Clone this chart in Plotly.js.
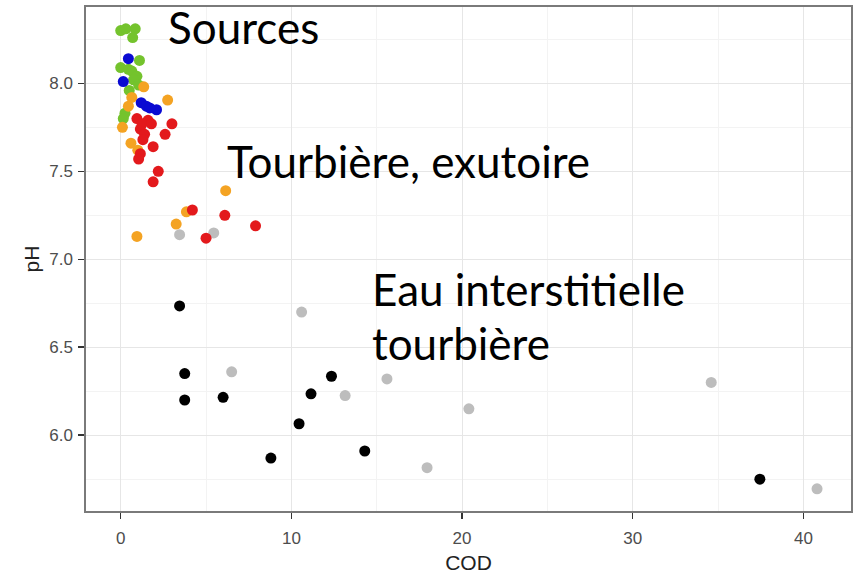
<!DOCTYPE html>
<html>
<head>
<meta charset="utf-8">
<script src="https://cdn.plot.ly/plotly-3.0.1.min.js"></script>
<style>html,body{margin:0;padding:0;background:#fff;}#chart{width:854px;height:574px;}</style>
</head>
<body>
<div id="chart"></div>
<script>
// Sources (green)
const greenCOD = [0.0, 0.3, 0.85, 0.7, 1.1, 0.0, 0.45, 0.65, 0.95, 0.75, 1.05, 0.25, 0.15, 0.5];
const greenPH  = [8.30, 8.31, 8.31, 8.26, 8.13, 8.09, 8.08, 8.07, 8.04, 8.02, 7.99, 7.83, 7.80, 7.96];
// blue
const blueCOD = [0.45, 0.15, 1.2, 1.5, 2.1, 1.7];
const bluePH  = [8.14, 8.01, 7.89, 7.87, 7.85, 7.86];
// orange
const orangeCOD = [1.35, 2.75, 0.65, 0.45, 0.1, 0.6, 1.0, 0.95, 3.85, 6.15, 3.25];
const orangePH  = [7.98, 7.905, 7.92, 7.87, 7.75, 7.66, 7.62, 7.13, 7.27, 7.39, 7.20];
// red
const redCOD = [0.95, 1.6, 1.15, 1.4, 1.25, 1.8, 3.0, 2.6, 1.9, 1.15, 1.05, 2.2, 1.9, 4.2, 6.1, 5.0, 7.9, 1.3];
const redPH  = [7.80, 7.79, 7.74, 7.71, 7.77, 7.77, 7.77, 7.71, 7.64, 7.60, 7.57, 7.50, 7.44, 7.28, 7.25, 7.12, 7.19, 7.68];
// grey
const greyCOD = [3.45, 5.45, 10.6, 6.5, 13.15, 15.6, 20.4, 17.95, 34.6, 40.8];
const greyPH  = [7.14, 7.15, 6.70, 6.36, 6.225, 6.32, 6.15, 5.815, 6.30, 5.695];
// black
const blackCOD = [3.45, 3.75, 3.75, 6.0, 12.35, 11.15, 10.45, 8.8, 14.3, 37.45];
const blackPH  = [6.735, 6.35, 6.20, 6.215, 6.335, 6.235, 6.065, 5.87, 5.91, 5.75];

const xTicks = [0, 10, 20, 30, 40];
const yTicks = [6.0, 6.5, 7.0, 7.5, 8.0];

function series(x, y, color) {
  return {x: x, y: y, type: 'scatter', mode: 'markers', hoverinfo: 'skip',
          marker: {color: color, size: 11, line: {width: 0}}, showlegend: false};
}

const data = [
  series(greyCOD, greyPH, '#bdbdbd'),
  series(greenCOD, greenPH, '#74c32d'),
  series(orangeCOD, orangePH, '#f4a323'),
  series(blueCOD, bluePH, '#0a0ad2'),
  series(redCOD, redPH, '#e3191c'),
  series(blackCOD, blackPH, '#000000')
];

const annFont = {family: 'Lato, sans-serif', size: 44, color: '#000'};
function ann(text, x, y) {
  return {text: text, x: x, y: y, xref: 'x', yref: 'y', xanchor: 'left', yanchor: 'bottom',
          showarrow: false, font: annFont, align: 'left'};
}

const layout = {
  width: 854, height: 574,
  margin: {l: 86, r: 3, t: 7, b: 63},
  paper_bgcolor: '#fff', plot_bgcolor: '#fff',
  font: {family: 'Liberation Sans, Arial, sans-serif'},
  xaxis: {
    range: [-2.034, 42.79], tickvals: xTicks, ticktext: xTicks.map(String),
    showgrid: true, gridcolor: '#e6e6e6', gridwidth: 1,
    minor: {tickvals: [5, 15, 25, 35], showgrid: true, gridcolor: '#f3f3f3', gridwidth: 1, ticks: ''},
    zeroline: false, showline: true, mirror: true, linecolor: '#7a7a7a', linewidth: 1.6,
    ticks: 'outside', ticklen: 6, tickwidth: 1.5, tickcolor: '#333',
    ticklabelstandoff: 5,
    tickfont: {size: 17, color: '#4d4d4d'},
    title: {text: 'COD', font: {size: 21, color: '#222'}, standoff: 10}
  },
  yaxis: {
    range: [5.569, 8.434], tickvals: yTicks, ticktext: yTicks.map(v => v.toFixed(1)),
    showgrid: true, gridcolor: '#e6e6e6', gridwidth: 1,
    minor: {tickvals: [5.75, 6.25, 6.75, 7.25, 7.75, 8.25], showgrid: true, gridcolor: '#f3f3f3', gridwidth: 1, ticks: ''},
    zeroline: false, showline: true, mirror: true, linecolor: '#7a7a7a', linewidth: 1.6,
    ticks: 'outside', ticklen: 6, tickwidth: 1.5, tickcolor: '#333',
    ticklabelstandoff: 2,
    tickfont: {size: 17, color: '#4d4d4d'},
    title: {text: 'pH', font: {size: 21, color: '#222'}, standoff: 4}
  },
  annotations: [
    ann('Sources', 2.66, 8.159),
    ann('Tourbière, exutoire', 6.10, 7.402),
    ann('Eau interstitielle', 14.6, 6.670),
    ann('tourbière', 14.6, 6.367)
  ]
};

Plotly.newPlot('chart', data, layout, {displayModeBar: false, staticPlot: true});
</script>
</body>
</html>
